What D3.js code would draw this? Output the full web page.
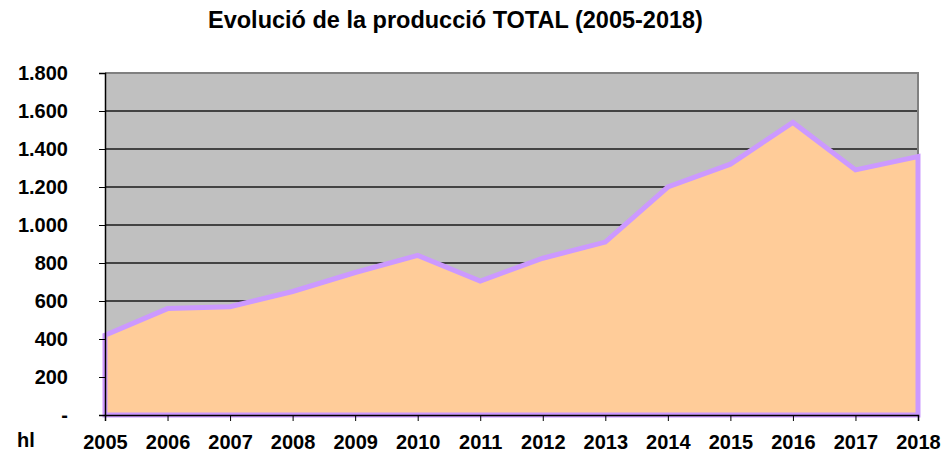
<!DOCTYPE html>
<html>
<head>
<meta charset="utf-8">
<script src="https://cdn.jsdelivr.net/npm/d3@7"></script>
<style>
  body { margin: 0; background: #fff; }
  text { font-family: Arial, "Liberation Sans", sans-serif; font-weight: bold; fill: #000; }
</style>
</head>
<body>
<div id="chart"></div>
<script>
const years = [2005, 2006, 2007, 2008, 2009, 2010, 2011, 2012, 2013, 2014, 2015, 2016, 2017, 2018];
const production = [420, 560, 570, 650, 750, 840, 705, 825, 910, 1200, 1320, 1540, 1290, 1360];
const yTicks = [0, 200, 400, 600, 800, 1000, 1200, 1400, 1600, 1800];

const width = 947, height = 454;
const margin = { top: 73, right: 29, bottom: 39, left: 105 };
const chartWidth = width - margin.left - margin.right;
const chartHeight = height - margin.top - margin.bottom;

const svg = d3.select("#chart").append("svg")
  .attr("width", width)
  .attr("height", height);

// 標題
svg.append("text")
  .attr("x", 208)
  .attr("y", 28)
  .style("font-size", "23.5px")
  .text("Evolució de la producció TOTAL (2005-2018)");

const g = svg.append("g")
  .attr("transform", `translate(${margin.left},${margin.top})`);

const xScale = d3.scaleLinear().domain([2005, 2018]).range([0, chartWidth]);
const yScale = d3.scaleLinear().domain([0, 1800]).range([chartHeight, 0]);

// 背景
g.append("rect")
  .attr("width", chartWidth)
  .attr("height", chartHeight)
  .attr("fill", "#C0C0C0");

// 格線
g.selectAll(".grid")
  .data(yTicks.filter((d) => d > 0 && d < 1800))
  .enter()
  .append("line")
  .attr("class", "grid")
  .attr("x1", 0)
  .attr("x2", chartWidth)
  .attr("y1", (d) => yScale(d))
  .attr("y2", (d) => yScale(d))
  .attr("stroke", "#1a1a1a")
  .attr("stroke-width", 1.5);

// 外框 (上、右)
g.append("path")
  .attr("d", `M0,0H${chartWidth}V${chartHeight}`)
  .attr("fill", "none")
  .attr("stroke", "#808080")
  .attr("stroke-width", 2);

// 面積
const area = d3.area()
  .x((d, i) => xScale(years[i]))
  .y0(yScale(0))
  .y1((d) => yScale(d));

g.append("path")
  .datum(production)
  .attr("d", (d) => area(d) + "Z")
  .attr("fill", "#FFCC99")
  .attr("stroke", "#CC99FF")
  .attr("stroke-width", 5)
  .attr("stroke-linejoin", "miter");

// 縱軸
const yAxis = g.append("g")
  .call(d3.axisLeft(yScale)
    .tickValues(yTicks)
    .tickSize(6)
    .tickPadding(31)
    .tickFormat((d) => d === 0 ? "-" : d3.format(",")(d).replace(/,/g, ".")));
yAxis.select(".domain").attr("stroke", "#000").attr("stroke-width", 1.5);
yAxis.selectAll(".tick line").attr("stroke", "#000");
yAxis.selectAll("text")
  .style("font-size", "20px")
  .style("font-family", "Arial, 'Liberation Sans', sans-serif")
  .style("font-weight", "bold");

// 橫軸
const xAxis = g.append("g")
  .attr("transform", `translate(0,${chartHeight})`)
  .call(d3.axisBottom(xScale)
    .tickValues(years)
    .tickSize(6)
    .tickPadding(14)
    .tickFormat(d3.format("d")));
xAxis.select(".domain").attr("stroke", "#000").attr("stroke-width", 1.5);
xAxis.selectAll(".tick line").attr("stroke", "#000");
xAxis.selectAll("text")
  .style("font-size", "20px")
  .style("font-family", "Arial, 'Liberation Sans', sans-serif")
  .style("font-weight", "bold");

// 單位
svg.append("text")
  .attr("x", 17)
  .attr("y", 447)
  .style("font-size", "20px")
  .text("hl");
</script>
</body>
</html>
